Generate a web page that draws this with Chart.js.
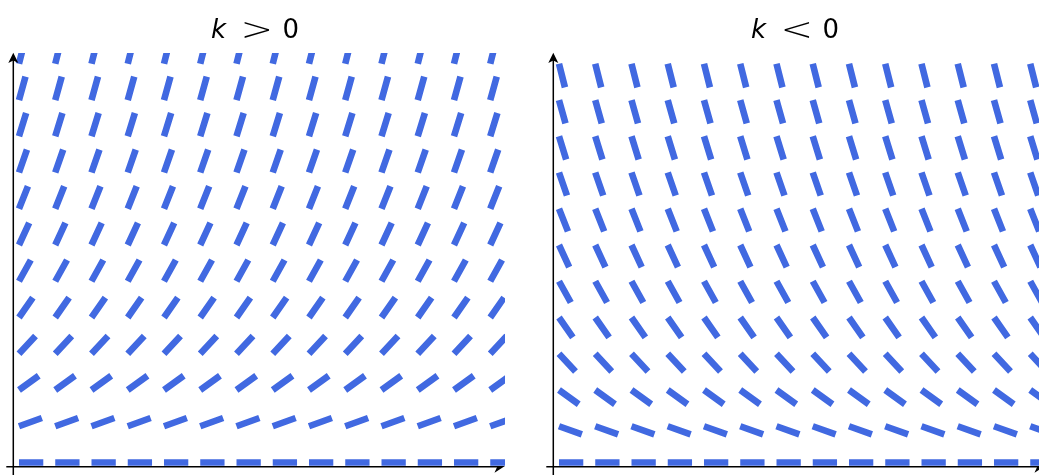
<!DOCTYPE html>
<html>
<head>
<meta charset="utf-8">
<script src="https://cdn.jsdelivr.net/npm/chart.js@4.4.1/dist/chart.umd.min.js"></script>
<style>
html,body{margin:0;padding:0;background:#fff;overflow:hidden;width:1039px;height:475px;position:relative;}
.panel{position:absolute;top:0;width:520px;height:475px;}
.title{position:absolute;top:16px;font-family:"DejaVu Sans",sans-serif;font-size:26px;line-height:26px;white-space:nowrap;color:#000;}
.title i{font-style:italic;}
.title .rel{display:inline-block;font-weight:200;transform:scale(1.5,1.25);margin:0 6px 0 12px;}
</style>
</head>
<body>
<div class="panel" style="left:0"><canvas id="c1" width="520" height="475"></canvas></div>
<div class="panel" style="left:540px"><canvas id="c2" width="520" height="475"></canvas></div>
<div class="title" id="t1" style="left:211px"></div>
<div class="title" id="t2" style="left:751px"></div>
<script>
// ---- data ----
const tValues = [0, 1, 2, 3, 4, 5, 6, 7, 8, 9, 10, 11, 12, 13];
const pValues = [0, 1, 2, 3, 4, 5, 6, 7, 8, 9, 10, 11];
const slopesGrowth = [0, 0.36, 0.72, 1.08, 1.44, 1.8, 2.16, 2.52, 2.88, 3.24, 3.6, 3.96];
const slopesDecay = [0, -0.36, -0.72, -1.08, -1.44, -1.8, -2.16, -2.52, -2.88, -3.24, -3.6, -3.96];
const titleVar = ['k', 'k'];
const titleRel = ['>', '<'];
const titleVal = ['0', '0'];
const xRange = [-0.157, 13.407];
const yRange = [-0.116, 11.297];

// ---- style ----
const SEG_PX = 24.3;
const SEG_COLOR = '#4169e1';

['t1', 't2'].forEach((id, i) => {
  const el = document.getElementById(id);
  const iv = document.createElement('i'); iv.textContent = titleVar[i];
  const rel = document.createElement('span'); rel.className = 'rel'; rel.textContent = titleRel[i];
  el.appendChild(iv);
  el.appendChild(document.createTextNode(' '));
  el.appendChild(rel);
  el.appendChild(document.createTextNode(' ' + titleVal[i]));
});

const axesPlugin = {
  id: 'axesArrows',
  afterDatasetsDraw(chart) {
    const {ctx, chartArea: a} = chart;
    const H = chart.height;
    ctx.save();
    ctx.strokeStyle = '#000';
    ctx.fillStyle = '#000';
    ctx.lineWidth = 1.5;
    ctx.beginPath();
    ctx.moveTo(a.left - 7, a.bottom); ctx.lineTo(a.right - 3, a.bottom);
    ctx.moveTo(a.left, H); ctx.lineTo(a.left, a.top + 5);
    ctx.stroke();
    // y arrow head
    ctx.beginPath();
    ctx.moveTo(a.left, a.top - 0.3);
    ctx.lineTo(a.left - 5, a.top + 10);
    ctx.lineTo(a.left, a.top + 7.5);
    ctx.lineTo(a.left + 5, a.top + 10);
    ctx.closePath(); ctx.fill();
    // x arrow head (lower half)
    ctx.beginPath();
    ctx.moveTo(a.right, a.bottom - 0.7);
    ctx.lineTo(a.right - 10.5, a.bottom + 6);
    ctx.lineTo(a.right - 7.5, a.bottom - 0.7);
    ctx.closePath(); ctx.fill();
    ctx.restore();
  }
};

function makeChart(id) {
  return new Chart(document.getElementById(id), {
    type: 'line',
    data: {datasets: [{
      data: [],
      borderColor: SEG_COLOR,
      borderWidth: 6.6,
      borderCapStyle: 'butt',
      pointRadius: 0,
      pointHoverRadius: 0,
      spanGaps: false,
      fill: false,
      tension: 0,
      clip: 0
    }]},
    options: {
      responsive: false,
      animation: false,
      events: [],
      devicePixelRatio: 1,
      layout: {autoPadding: false, padding: {left: 13.3, top: 53, right: 15, bottom: 8.3}},
      plugins: {legend: {display: false}, tooltip: {enabled: false}, title: {display: false}},
      scales: {
        x: {type: 'linear', min: xRange[0], max: xRange[1], display: false},
        y: {type: 'linear', min: yRange[0], max: yRange[1], display: false}
      }
    },
    plugins: [axesPlugin]
  });
}

function fillSegments(chart, slopes) {
  const xs = chart.scales.x, ys = chart.scales.y;
  const sx = Math.abs(xs.getPixelForValue(1) - xs.getPixelForValue(0));
  const sy = Math.abs(ys.getPixelForValue(1) - ys.getPixelForValue(0));
  const out = [];
  pValues.forEach((p, i) => {
    const m = slopes[i];
    tValues.forEach(t => {
      const dt = SEG_PX / Math.sqrt(sx * sx + (m * sy) * (m * sy));
      out.push({x: t, y: p});
      out.push({x: t + dt, y: p + m * dt});
      out.push({x: t + dt, y: null});
    });
  });
  chart.data.datasets[0].data = out;
  chart.update('none');
}

const c1 = makeChart('c1');
const c2 = makeChart('c2');
fillSegments(c1, slopesGrowth);
fillSegments(c2, slopesDecay);
</script>
</body>
</html>
